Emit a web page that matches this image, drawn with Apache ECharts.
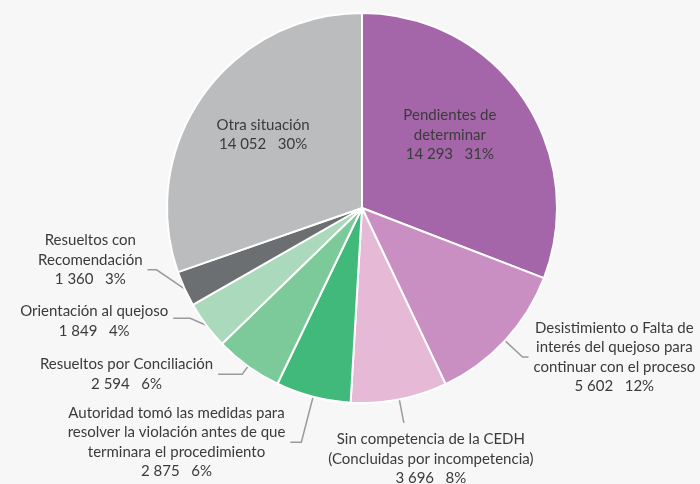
<!DOCTYPE html>
<html>
<head>
<meta charset="utf-8">
<script src="https://cdn.jsdelivr.net/npm/echarts@6/dist/echarts.min.js"></script>
<style>
html, body { margin: 0; padding: 0; background: #f7f7f7; }
#chart { width: 700px; height: 484px; }
</style>
</head>
<body>
<div id="chart"></div>
<script>
// categorías (en orden de las manecillas del reloj, desde las 12)
const categories = [
    'Pendientes de\ndeterminar',
    'Desistimiento o Falta de\ninterés del quejoso para\ncontinuar con el proceso',
    'Sin competencia de la CEDH\n(Concluidas por incompetencia)',
    'Autoridad tomó las medidas para\nresolver la violación antes de que\nterminara el procedimiento',
    'Resueltos por Conciliación',
    'Orientación al quejoso',
    'Resueltos con\nRecomendación',
    'Otra situación'
];
const values = [14293, 5602, 3696, 2875, 2594, 1849, 1360, 14052];

const colors = ['#a466a9', '#ca8fc2', '#e6b9d7', '#40b97a', '#7cc99a', '#aad9bb', '#6b6f71', '#bbbcbe'];
// largo de las líneas guía [length, length2]
const guide = [[0, 0], [24, 6], [24, 0], [47, 11], [10, 24], [6, 18], [8, 20], [0, 0]];
const inside = [0, 7];

function fmt(n) {
    return String(n).replace(/\B(?=(\d{3})+(?!\d))/g, ' ');
}

// línea guía quebrada hacia la izquierda, partiendo del borde de la rebanada
function leftGuide(pts, up, bendX, endX, textDy) {
    const e = pts[0];
    const b = [e[0] - bendX, e[1] - up];
    const end = [e[0] - endX, e[1] - up];
    return {
        x: end[0] - 5, y: end[1] + textDy,
        align: 'right', verticalAlign: 'middle',
        labelLinePoints: [e, b, end]
    };
}

const chart = echarts.init(document.getElementById('chart'));

chart.setOption({
    backgroundColor: '#f7f7f7',
    animation: false,
    series: [{
        type: 'pie',
        radius: 195,
        center: [362, 208],
        startAngle: 90,
        clockwise: true,
        avoidLabelOverlap: false,
        percentPrecision: 0,
        emphasis: { disabled: true },
        itemStyle: { borderColor: '#ffffff', borderWidth: 2 },
        label: {
            distanceToLabelLine: 5,
            overflow: 'none',
            formatter: function (p) {
                let lines = p.name.split('\n').map(s => '{t|' + s + '}');
                lines.push('{t|' + fmt(p.value) + '   ' + p.percent + '%}');
                return lines.join('\n');
            },
            rich: {
                t: { align: 'center', fontFamily: 'Lato', fontSize: 15, lineHeight: 19.5, color: '#3b3b3b' }
            }
        },
        labelLine: {
            lineStyle: { color: '#9a9a9a', width: 1.5 }
        },
        labelLayout: function (p) {
            const pts = p.labelLinePoints;
            if (p.dataIndex === 0) return { dx: 5, dy: -16 };
            if (p.dataIndex === 7) return { dx: -17, dy: -15 };
            if (!pts) return {};
            if (p.dataIndex === 6) return leftGuide(pts, 19, 28, 37, -10);
            if (p.dataIndex === 5) return leftGuide(pts, 7, 16, 33, 3);
            if (p.dataIndex === 2) {
                return {
                    x: pts[1][0] + 27, y: pts[1][1] + 36,
                    align: 'center', verticalAlign: 'middle',
                    labelLinePoints: [pts[0], pts[1]]
                };
            }
            return {};
        },
        data: categories.map((name, i) => ({
            name: name,
            value: values[i],
            itemStyle: { color: colors[i] },
            label: { position: inside.includes(i) ? 'inside' : 'outside' },
            labelLine: { show: !inside.includes(i), length: guide[i][0], length2: guide[i][1] }
        }))
    }]
});
</script>
</body>
</html>
